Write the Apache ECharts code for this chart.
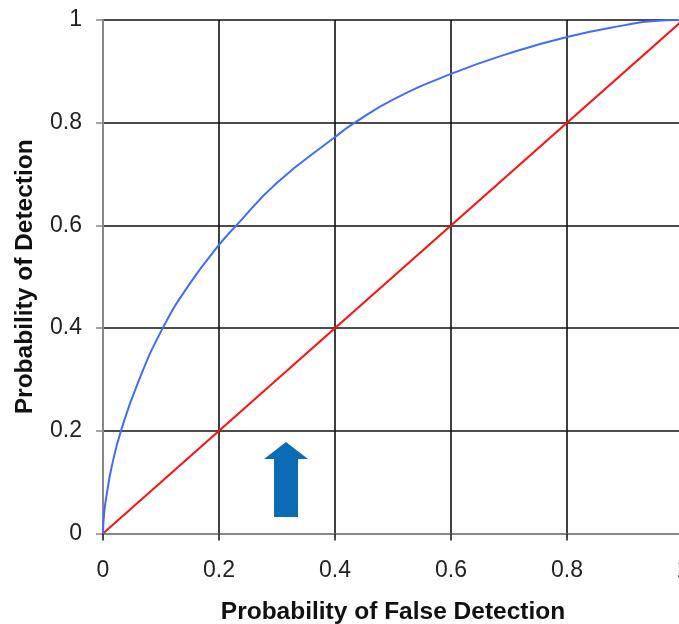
<!DOCTYPE html>
<html>
<head>
<meta charset="utf-8">
<script src="https://cdn.jsdelivr.net/npm/echarts@6/dist/echarts.min.js"></script>
<style>
html,body{margin:0;padding:0;background:#fff;}
#chart{width:679px;height:624px;}
</style>
</head>
<body>
<div id="chart"></div>
<script>
// Data
var xAxisTitle = 'Probability of False Detection';
var yAxisTitle = 'Probability of Detection';
var rocX = [0, 0.002, 0.007, 0.015, 0.031, 0.06, 0.103, 0.15, 0.2, 0.23, 0.3, 0.4, 0.434, 0.5, 0.6, 0.7, 0.8, 0.9, 0.95, 1];
var rocY = [0, 0.04, 0.08, 0.13, 0.2, 0.293, 0.4, 0.487, 0.562, 0.6, 0.683, 0.772, 0.8, 0.845, 0.895, 0.935, 0.967, 0.99, 0.998, 1];
var chanceX = [0, 1];
var chanceY = [0, 1];
// arrow: [x, baseY, tipY]
var arrowData = [[0.3155, 0.032, 0.178]];

var chart = echarts.init(document.getElementById('chart'), null, {renderer: 'canvas'});
var font = 'Liberation Sans, Arial, sans-serif';

function pairs(xs, ys) { return xs.map(function (x, i) { return [x, ys[i]]; }); }

var option = {
  backgroundColor: '#fff',
  animation: false,
  grid: {left: 103, top: 20, width: 580, height: 513.5, containLabel: false, outerBoundsMode: 'none'},
  xAxis: {
    type: 'value', min: 0, max: 1, interval: 0.2,
    name: xAxisTitle, nameLocation: 'middle', nameGap: 66,
    nameTextStyle: {fontFamily: font, fontSize: 24.5, fontWeight: 'bold', color: '#111'},
    axisLine: {show: true, lineStyle: {color: '#888', width: 2}},
    axisTick: {show: true, length: 7, lineStyle: {color: '#111', width: 1.5}},
    axisLabel: {fontFamily: font, fontSize: 23, color: '#222', margin: 26,
      formatter: function (v) { return String(Math.round(v * 10) / 10); }},
    splitLine: {show: true, lineStyle: {color: '#111', width: 1.6}}
  },
  yAxis: {
    type: 'value', min: 0, max: 1, interval: 0.2,
    name: yAxisTitle, nameLocation: 'middle', nameGap: 65,
    nameTextStyle: {fontFamily: font, fontSize: 24.5, fontWeight: 'bold', color: '#111'},
    axisLine: {show: true, lineStyle: {color: '#888', width: 2}},
    axisTick: {show: true, length: 7, lineStyle: {color: '#888', width: 1.5}},
    axisLabel: {fontFamily: font, fontSize: 23, color: '#222', margin: 21,
      formatter: function (v) { return String(Math.round(v * 10) / 10); }},
    splitLine: {show: true, lineStyle: {color: '#111', width: 1.6}}
  },
  series: [
    {
      type: 'line', data: pairs(chanceX, chanceY), showSymbol: false,
      lineStyle: {color: '#ff1010', width: 2}, z: 3
    },
    {
      type: 'line', data: pairs(rocX, rocY), showSymbol: false, smooth: 0.5,
      lineStyle: {color: '#3f6cff', width: 2}, z: 4
    },
    {
      type: 'custom', data: arrowData, clip: false, z: 5,
      renderItem: function (params, api) {
        var base = api.coord([api.value(0), api.value(1)]);
        var tip = api.coord([api.value(0), api.value(2)]);
        var cx = base[0];
        var headH = 17, headHalf = 22, shaftHalf = 12;
        var hb = tip[1] + headH;
        return {
          type: 'polygon',
          shape: {points: [
            [cx, tip[1]], [cx + headHalf, hb], [cx + shaftHalf, hb], [cx + shaftHalf, base[1]],
            [cx - shaftHalf, base[1]], [cx - shaftHalf, hb], [cx - headHalf, hb]
          ]},
          style: {fill: '#0b6cb5'}
        };
      }
    }
  ]
};
chart.setOption(option);
</script>
</body>
</html>
